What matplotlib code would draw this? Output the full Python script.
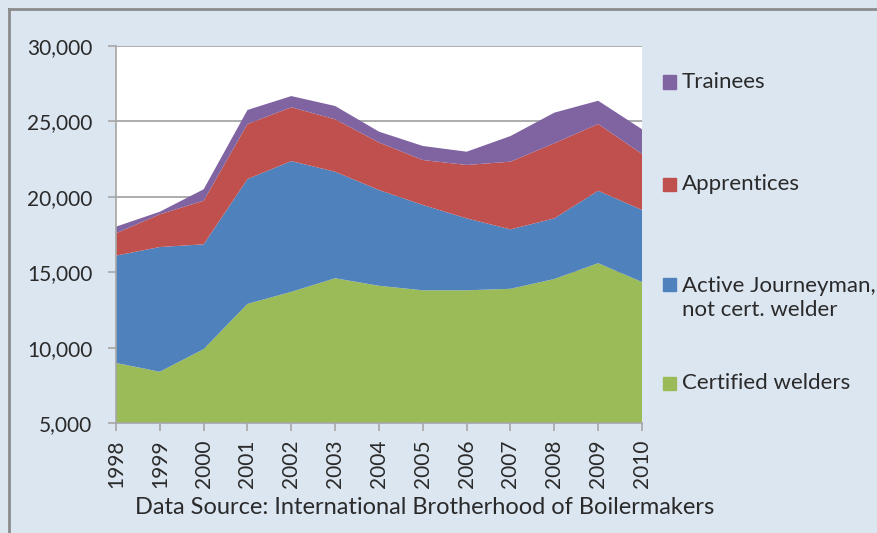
import matplotlib
matplotlib.use('Agg')
import matplotlib.pyplot as plt
import matplotlib.patches as mpatches
from matplotlib.lines import Line2D
from matplotlib.ticker import FuncFormatter

# data (members per year)
years = [1998, 1999, 2000, 2001, 2002, 2003, 2004, 2005, 2006, 2007, 2008, 2009, 2010]
certified = [8980, 8400, 9900, 12900, 13700, 14600, 14100, 13800, 13800, 13900, 14550, 15600, 14350]
journeyman = [7120, 8270, 6950, 8280, 8670, 7060, 6350, 5660, 4770, 3940, 4020, 4800, 4780]
apprentices = [1480, 2170, 2890, 3650, 3565, 3480, 3150, 2980, 3540, 4490, 4980, 4430, 3710]
trainees = [440, 170, 760, 930, 745, 880, 720, 930, 880, 1700, 2030, 1540, 1640]

labels = ['Certified welders', 'Active Journeyman,\nnot cert. welder', 'Apprentices', 'Trainees']
colors = ['#9bbb59', '#4f81bd', '#c0504d', '#8064a2']
yticks = [5000, 10000, 15000, 20000, 25000, 30000]
source = 'Data Source: International Brotherhood of Boilermakers'

plt.rcParams['font.family'] = ['Lato', 'DejaVu Sans']
text_col = '#2a2a2a'
bg = '#dce6f1'

fig = plt.figure(figsize=(8.78, 5.33), dpi=100)
fig.patch.set_facecolor(bg)

# chart border: only top and left edges are inside the picture
W, H = 878, 533
bx, by = 8.5 / W, 1 - 8.5 / H
fig.lines.append(Line2D([bx, 1.0], [by, by], transform=fig.transFigure,
                        color='#8c8c8c', linewidth=2))
fig.lines.append(Line2D([bx, bx], [0.0, by], transform=fig.transFigure,
                        color='#8c8c8c', linewidth=2))

ax = fig.add_axes([116 / W, 1 - 423 / H, (642 - 116) / W, (423 - 46) / H])
ax.set_facecolor('white')

ax.stackplot(years, certified, journeyman, apprentices, trainees,
             colors=colors, linewidth=0, zorder=2)

ax.set_xlim(years[0], years[-1])
ax.set_ylim(yticks[0], yticks[-1])
ax.set_yticks(yticks)
ax.yaxis.set_major_formatter(FuncFormatter(lambda v, p: '{:,.0f}'.format(v)))
ax.set_xticks(years)
ax.set_xticklabels([str(y) for y in years], rotation=90)
ax.grid(axis='y', color='#a6a6a6', linewidth=1.3, zorder=1)
ax.set_axisbelow(True)

for s in ['top', 'right']:
    ax.spines[s].set_visible(False)
for s in ['left', 'bottom']:
    ax.spines[s].set_color('#a6a6a6')
    ax.spines[s].set_linewidth(1.2)
ax.tick_params(axis='both', colors='#a6a6a6', labelcolor=text_col, labelsize=15,
               length=6, width=1.2)
ax.tick_params(axis='y', pad=11)
ax.tick_params(axis='x', pad=6)

# legend on the right, top entry first
leg_mark = [383, 284, 184, 82]
leg_text = [383, 298, 184, 82]
for lab, col, ym, yt in zip(labels, colors, leg_mark, leg_text):
    fig.patches.append(mpatches.Rectangle((663 / W, 1 - (ym + 6.5) / H), 13 / W, 13 / H,
                                          transform=fig.transFigure, color=col))
    fig.text(682 / W, 1 - yt / H, lab, fontsize=16, color=text_col,
             va='center', ha='left', linespacing=1.25)

fig.text(425 / W, 1 - 508 / H, source, fontsize=17, color=text_col,
         ha='center', va='center')

fig.savefig('out.png', dpi=100, facecolor=bg)
